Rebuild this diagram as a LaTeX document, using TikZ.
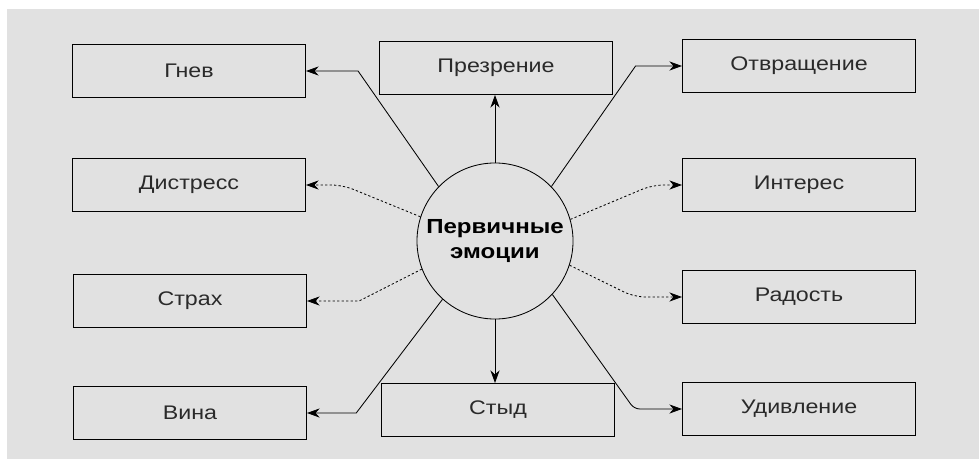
\documentclass[tikz,border=0pt]{standalone}
\usepackage{fontspec}
\usepackage{xcolor}
\usepackage{tikz}
\usetikzlibrary{shapes.geometric, arrows.meta, positioning}
\setmainfont{Liberation Sans}
\newfontfamily\boxfont[FakeStretch=1.18]{Liberation Sans}
\definecolor{scangray}{HTML}{E1E1E1}
\definecolor{inkgray}{HTML}{2A2A2A}
\tikzstyle{emotion} = [rectangle, minimum width=5.825cm, minimum height=1.325cm, text centered, draw=black, line width=0.7pt, text=inkgray, font=\boxfont\fontsize{14pt}{16pt}\selectfont]
\tikzstyle{core} = [circle, minimum size=3.9cm, inner sep=0pt, draw=black, line width=0.6pt, align=center, font=\boxfont\bfseries\fontsize{14.5pt}{17.5pt}\selectfont]
\tikzstyle{arrow} = [line width=0.6pt, -{Stealth[length=9pt,width=6.5pt]}]
\tikzstyle{dotarrow} = [arrow, dash pattern=on 1.6pt off 1.6pt]

\begin{document}
\begin{tikzpicture}[x=0.025cm, y=-0.025cm]
\useasboundingbox (0,0) rectangle (979,459);
\fill[white] (0,0) rectangle (979,459);
\fill[scangray] (7,9) rectangle (979,459);

\node (center) [core] at (495,241) {Первичные\\эмоции};

\node (gnev) [emotion] at (189,71) {Гнев};
\node (distress) [emotion] at (189,185) {Дистресс};
\node (strah) [emotion] at (190,301) {Страх};
\node (vina) [emotion] at (190,413) {Вина};

\node (prezrenie) [emotion] at (496,68) {Презрение};
\node (styd) [emotion] at (498,410) {Стыд};

\node (otvr) [emotion] at (799,66) {Отвращение};
\node (interes) [emotion] at (799,185) {Интерес};
\node (radost) [emotion] at (799,297) {Радость};
\node (udivl) [emotion] at (799,409) {Удивление};

\draw [arrow] (center.90) -- (prezrenie.south -| center.90);
\draw [arrow] (center.270) -- (styd.north -| center.270);

\draw [arrow] (center.136) -- ([xshift=37]gnev.east) -- (gnev.east);
\draw [dotarrow, rounded corners=8] (center.162) -- ([xshift=26]distress.east) -- (distress.east);
\draw [dotarrow] (center.201) -- ([xshift=37]strah.east) -- (strah.east);
\draw [arrow] (center.228) -- ([xshift=35]vina.east) -- (vina.east);

\draw [arrow] (center.44) -- ([xshift=-33]otvr.west) -- (otvr.west);
\draw [dotarrow, rounded corners=8] (center.16) -- ([xshift=-21]interes.west) -- (interes.west);
\draw [dotarrow, rounded corners=8] (center.342) -- ([xshift=-34]radost.west) -- (radost.west);
\draw [arrow, rounded corners=4] (center.317) -- ([xshift=-34]udivl.west) -- (udivl.west);

\end{tikzpicture}
\end{document}
